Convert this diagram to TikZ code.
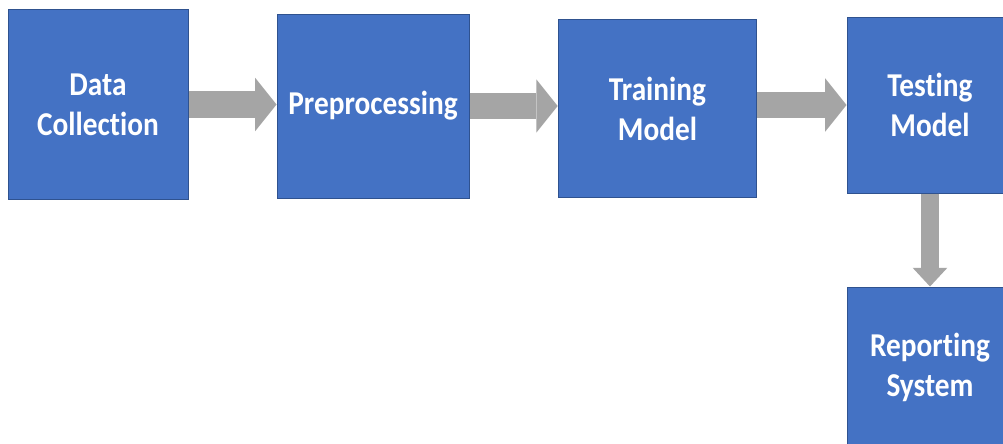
\documentclass[tikz,border=0pt]{standalone}
\usepackage{fontspec}
\setmainfont{Carlito}[FakeStretch=0.88, Ligatures=NoCommon]
\usetikzlibrary{arrows.meta}

\definecolor{boxblue}{HTML}{4472C4}
\definecolor{boxedge}{HTML}{2F528F}
\definecolor{flowgray}{HTML}{A5A5A5}

\tikzset{
  stage/.style={rectangle, fill=boxblue, draw=boxedge, line width=0.75pt,
    text=white, font=\fontsize{25}{30}\selectfont\bfseries, align=center, inner sep=0pt},
  flow/.style={draw=flowgray, line width=20pt,
    -{Triangle[length=16pt, width=40pt, line width=0pt]}},
  flowdown/.style={draw=flowgray, line width=14pt,
    -{Triangle[length=14pt, width=26pt, line width=0pt]}}
}

\begin{document}
\begin{tikzpicture}[x=0.75pt, y=-0.75pt]
    \clip (0,0) rectangle (1003,443); % page frame
    \fill[white] (0,0) rectangle (1003,443);
    \node[stage, minimum width=135pt, minimum height=143pt] (collect) at (98,104.5) {Data\\Collection};
    \node[stage, minimum width=144pt, minimum height=138pt] (prep) at (373,106) {Preprocessing};
    \node[stage, minimum width=149pt, minimum height=134pt] (train) at (657.5,108.5) {Training\\Model};
    \node[stage, minimum width=124.5pt, minimum height=132pt] (test) at (930,105) {Testing\\Model};
    \node[stage, minimum width=124.5pt, minimum height=120pt] (report) at (930,367) {Reporting\\System};
    \draw[flow] (collect.east) -- (collect.east -| prep.west); % block arrows
    \draw[flow] (prep.east) -- (prep.east -| train.west);
    \draw[flow] (test.west -| train.east) -- (test.west);
    \draw[flowdown] (test.south) -- (report.north);
\end{tikzpicture}
\end{document}
